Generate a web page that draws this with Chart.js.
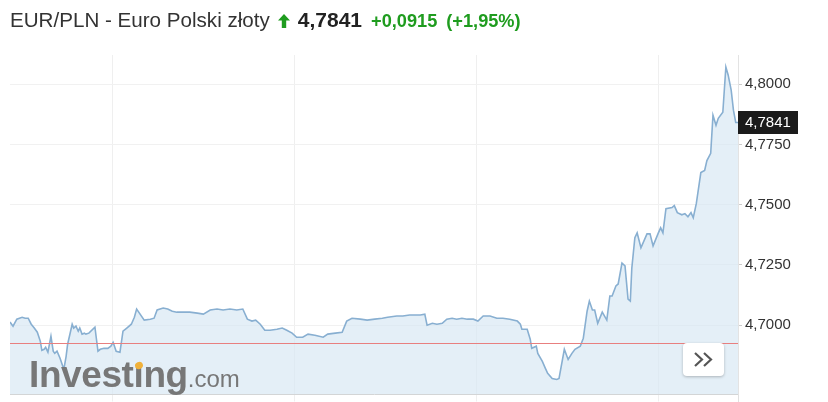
<!DOCTYPE html>
<html>
<head>
<meta charset="utf-8">
<script src="https://cdn.jsdelivr.net/npm/chart.js@4.4.1/dist/chart.umd.min.js"></script>
<style>
  html,body{margin:0;padding:0;background:#fff;width:828px;height:402px;overflow:hidden;font-family:"Liberation Sans",Arial,sans-serif;}
  #wrap{position:relative;width:828px;height:402px;}
  canvas{position:absolute;left:0;top:0;}
  #title{position:absolute;left:10px;top:8px;font-size:20.6px;color:#333;white-space:nowrap;line-height:24px;}
  #title .price{font-weight:bold;color:#222;margin-left:8px;font-size:21px;}
  #title .chg{font-weight:bold;color:#1f9c1f;font-size:18.2px;margin-left:9px;}
  #title svg{vertical-align:-1px;margin-left:8px;}
  #logo{position:absolute;left:29px;top:354px;color:#777;white-space:nowrap;}
  #logo .a{font-weight:bold;font-size:37px;letter-spacing:-0.4px;}
  #logo .b{font-size:24px;}
  #dot{position:absolute;left:135px;top:362px;width:8px;height:7px;border-radius:50%;background:#f0b13a;transform:rotate(-25deg);}
  #btn{position:absolute;left:683px;top:343px;width:41px;height:33px;background:#fff;border-radius:4px;box-shadow:0 1px 3px rgba(0,0,0,0.25);}
</style>
</head>
<body>
<div id="wrap">
  <canvas id="c" width="828" height="402"></canvas>
  <div id="title"></div>
  <div id="logo"><span class="a">Investıng</span><span class="b">.com</span></div>
  <div id="dot"></div>
  <div id="btn"><svg width="41" height="33" viewBox="0 0 41 33"><polyline points="12,10 19,16.5 12,23" fill="none" stroke="#555" stroke-width="2.2"/><polyline points="21,10 28,16.5 21,23" fill="none" stroke="#555" stroke-width="2.2"/></svg></div>
</div>
<script>
const pairName = "EUR/PLN - Euro Polski złoty";
const lastPrice = 4.7841;
const changeText = "+0,0915";
const changePct = "(+1,95%)";
const prevClose = 4.6926;

// hours since start of the visible window
const times = [0.0,0.4,0.9,1.6,2.0,2.4,2.8,3.2,3.6,4.0,4.2,4.5,4.7,5.0,5.4,5.7,5.9,6.2,6.6,7.1,7.4,7.6,8.2,8.4,8.7,9.0,9.2,9.5,9.8,10.0,10.4,11.2,11.6,11.9,12.4,12.9,13.3,13.6,14.0,14.5,14.9,15.4,16.0,16.4,16.7,
17.7,18.5,19.0,19.4,20.2,20.8,21.4,22.0,22.8,23.7,24.7,25.5,26.4,27.3,28.1,29.0,29.9,30.7,31.3,31.9,32.4,33.0,33.6,34.3,
35.2,35.9,36.5,37.2,37.8,38.6,39.3,40.2,41.3,41.9,42.9,43.8,44.4,45.1,46.2,47.1,48.1,49.1,49.8,51.0,
51.8,52.7,54.1,54.7,55.0,55.7,56.3,57.0,57.6,58.3,58.9,59.6,60.3,61.1,61.7,62.4,63.3,64.2,65.0,65.9,66.9,67.3,67.5,68.2,
68.6,68.8,69.4,69.6,70.2,70.6,70.9,71.5,72.1,72.4,73.1,73.6,74.1,74.5,75.2,75.6,76.1,76.4,76.8,77.1,77.5,78.1,78.7,79.1,79.4,79.9,80.2,
80.7,81.1,81.5,81.8,82.0,82.4,82.7,83.2,84.0,84.4,84.8,85.5,85.8,86.1,86.5,87.3,87.6,88.0,88.6,89.0,89.4,89.8,90.1,90.5,
91.1,91.6,91.9,92.4,92.7,93.1,93.4,94.0,94.4,94.7,95.1,95.4,95.7,96.0];

const prices = [4.7013,4.6996,4.7025,4.7033,4.7029,4.7029,4.7004,4.6988,4.6971,4.6933,4.6896,4.6900,4.6908,4.6888,4.6954,4.6892,4.6883,4.6892,4.6863,4.6817,4.6871,4.6921,4.7004,4.6988,4.6996,4.6975,4.6988,4.6963,4.6967,4.6963,4.6967,4.6992,4.6892,4.6900,4.6904,4.6904,4.6913,4.6929,4.6892,4.6888,4.6975,4.6988,4.7004,4.7033,4.7067,
4.7021,4.7025,4.7029,4.7063,4.7071,4.7067,4.7058,4.7054,4.7054,4.7054,4.7050,4.7046,4.7063,4.7067,4.7063,4.7067,4.7063,4.7067,4.7025,4.7017,4.7021,4.7004,4.6979,4.6979,
4.6983,4.6988,4.6979,4.6967,4.6950,4.6950,4.6963,4.6958,4.6950,4.6963,4.6967,4.6971,4.7017,4.7029,4.7025,4.7021,4.7025,4.7029,4.7033,4.7038,
4.7038,4.7042,4.7042,4.7046,4.7000,4.7008,4.7004,4.7008,4.7025,4.7029,4.7025,4.7029,4.7025,4.7025,4.7017,4.7038,4.7038,4.7029,4.7029,4.7025,4.7017,4.7004,4.6983,4.6983,
4.6942,4.6904,4.6913,4.6883,4.6850,4.6821,4.6800,4.6779,4.6775,4.6779,4.6900,4.6858,4.6883,4.6900,4.6913,4.6946,4.7058,4.7100,4.7063,4.7063,4.7008,4.7054,4.7021,4.7121,4.7121,4.7163,4.7171,
4.7258,4.7246,4.7108,4.7100,4.7238,4.7363,4.7383,4.7321,4.7379,4.7379,4.7329,4.7383,4.7404,4.7383,4.7483,4.7488,4.7496,4.7467,4.7458,4.7463,4.7450,4.7467,4.7446,4.7504,
4.7633,4.7642,4.7683,4.7713,4.7871,4.7829,4.7858,4.7883,4.8071,4.8038,4.7975,4.7892,4.7841,4.7841];

const yTicks = [4.7000, 4.7250, 4.7500, 4.7750, 4.8000];
const xGridHours = [13.5, 37.5, 61.5, 85.5];
const yMin = 4.67125, yMax = 4.81208;

const fmt = v => v.toFixed(4).replace('.', ',');

document.getElementById('title').innerHTML =
  pairName +
  '<svg width="12" height="14" viewBox="0 0 12 14"><polygon points="6,0 12,6.5 8.2,6.5 8.2,14 3.8,14 3.8,6.5 0,6.5" fill="#1f9c1f"/></svg>' +
  '<span class="price">' + fmt(lastPrice) + '</span>' +
  '<span class="chg">' + changeText + '</span>' +
  '<span class="chg">' + changePct + '</span>';

const overlay = {
  id: 'overlay',
  afterDatasetsDraw(chart) {
    const {ctx, chartArea, scales} = chart;
    const yp = Math.round(scales.y.getPixelForValue(prevClose)) + 0.5;
    ctx.save();
    ctx.strokeStyle = '#e87f7f';
    ctx.lineWidth = 1;
    ctx.beginPath();
    ctx.moveTo(chartArea.left, yp);
    ctx.lineTo(chartArea.right, yp);
    ctx.stroke();
    ctx.restore();
  },
  afterDraw(chart) {
    const {ctx, chartArea, scales} = chart;
    const y = scales.y.getPixelForValue(lastPrice);
    ctx.save();
    ctx.fillStyle = '#1b1b1b';
    ctx.fillRect(chartArea.right, Math.round(y) - 11, 60, 23);
    ctx.fillStyle = '#fff';
    ctx.font = '15px "Liberation Sans", Arial, sans-serif';
    ctx.textBaseline = 'middle';
    ctx.fillText(fmt(lastPrice), chartArea.right + 7, Math.round(y) + 1);
    ctx.strokeStyle = '#e0e0e0';
    ctx.beginPath();
    ctx.moveTo(chartArea.right + 0.5, chartArea.bottom);
    ctx.lineTo(chartArea.right + 0.5, 402);
    ctx.stroke();
    ctx.restore();
  }
};

new Chart(document.getElementById('c'), {
  type: 'line',
  data: {
    datasets: [{
      data: times.map((t, i) => ({x: t, y: prices[i]})),
      borderColor: '#88afd1',
      borderWidth: 1.6,
      backgroundColor: 'rgba(214,230,243,0.65)',
      fill: 'start',
      pointRadius: 0,
      tension: 0
    }]
  },
  options: {
    responsive: false,
    animation: false,
    layout: {padding: {left: 10, top: 55, right: 0, bottom: 0}},
    plugins: {legend: {display: false}, tooltip: {enabled: false}},
    scales: {
      x: {
        type: 'linear', min: 0, max: 96,
        afterBuildTicks: s => { s.ticks = xGridHours.map(v => ({value: v})); },
        ticks: {display: false},
        grid: {color: '#efefef', tickLength: 7, drawTicks: true},
        border: {display: true, color: '#d4d4d4'},
        afterFit: s => { s.height = 7; }
      },
      y: {
        position: 'right', min: yMin, max: yMax,
        afterBuildTicks: s => { s.ticks = yTicks.map(v => ({value: v})); },
        ticks: {callback: v => fmt(v), color: '#333', padding: 3,
                font: {size: 15, lineHeight: 0.6, family: '"Liberation Sans", Arial, sans-serif'}},
        grid: {color: '#f1f1f1', tickLength: 4, tickColor: '#cccccc'},
        border: {display: true, color: '#e3e3e3'},
        afterFit: s => { s.width = 90; }
      }
    }
  },
  plugins: [overlay]
});
</script>
</body>
</html>
